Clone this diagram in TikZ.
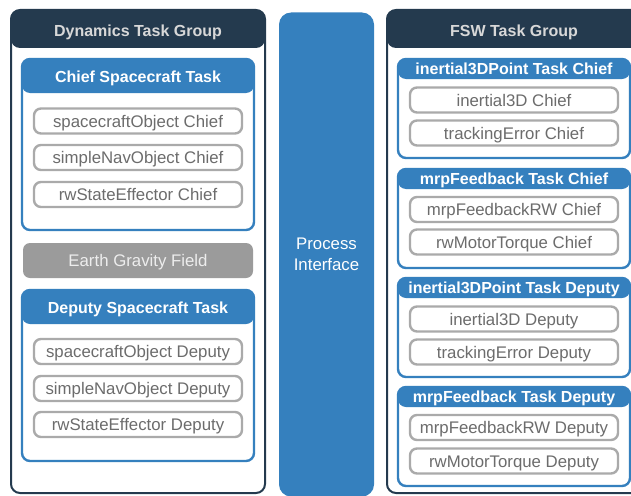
\documentclass[tikz,border=0pt]{standalone}
\usepackage{fontspec}
\setmainfont{Liberation Sans}
\definecolor{navy}{RGB}{36,58,78}
\definecolor{taskblue}{RGB}{53,128,190}
\definecolor{boxgray}{RGB}{170,170,170}
\definecolor{labelgray}{RGB}{108,108,108}
\definecolor{fieldgray}{RGB}{155,155,155}
\definecolor{headtext}{RGB}{216,216,216}

\tikzset{
  txt/.style={font=\fontsize{16.8}{19}\selectfont},
  btxt/.style={font=\fontsize{16}{19}\bfseries\selectfont},
  oneline/.style={text height=12pt, text depth=0pt},
  group/.style={draw=navy, line width=2pt, fill=white, rounded corners=9pt,
    minimum width=254pt, minimum height=483pt, inner sep=0pt,
    path picture={\fill[navy] (path picture bounding box.north west)
      rectangle ([yshift=-38pt]path picture bounding box.north east);}},
  grouptitle/.style={btxt, oneline, text=headtext, inner sep=0pt},
  dyntask/.style={draw=taskblue, line width=2.4pt, fill=white, rounded corners=8pt,
    minimum width=232pt, minimum height=171pt, inner sep=0pt,
    path picture={\fill[taskblue] (path picture bounding box.north west)
      rectangle ([yshift=-34pt]path picture bounding box.north east);}},
  fswtask/.style={draw=taskblue, line width=2.4pt, fill=white, rounded corners=8pt,
    minimum width=232pt, minimum height=99pt, inner sep=0pt,
    path picture={\fill[taskblue] (path picture bounding box.north west)
      rectangle ([yshift=-20pt]path picture bounding box.north east);}},
  tasktitle/.style={btxt, oneline, text=white, inner sep=0pt},
  item/.style={txt, oneline, draw=boxgray, line width=2.4pt, fill=white, rounded corners=7pt,
    text=labelgray, minimum width=208pt, minimum height=25pt, inner sep=0pt},
  field/.style={txt, oneline, fill=fieldgray, rounded corners=7pt, text=white!93!black,
    minimum width=230pt, minimum height=35pt, inner sep=0pt},
  interface/.style={txt, fill=taskblue, rounded corners=12pt, text=white,
    minimum width=95pt, minimum height=484pt, inner sep=0pt, align=center}
}

\begin{document}
\begin{tikzpicture}[x=1pt, y=-1pt]
\useasboundingbox (0,0) rectangle (631,495);

% ---------------- Dynamics task group ----------------
\node[group] (dyn) at (138,251.5) {};
\node[grouptitle] (dyntitle) at (138,30.5) {Dynamics Task Group};

\node[dyntask] (chief) at (138,144.5) {};
\node[tasktitle] (chieftitle) at (138,76.5) {Chief Spacecraft Task};
\node[item] (scC)  at (138,121) {spacecraftObject Chief};
\node[item] (navC) at (138,157.5) {simpleNavObject Chief};
\node[item] (rwC)  at (138,194.5) {rwStateEffector Chief};

\node[field] (grav) at (138,260.5) {Earth Gravity Field};

\node[dyntask] (deputy) at (138,375.5) {};
\node[tasktitle] (deputytitle) at (138,307.5) {Deputy Spacecraft Task};
\node[item] (scD)  at (138,351.5) {spacecraftObject Deputy};
\node[item] (navD) at (138,388.5) {simpleNavObject Deputy};
\node[item] (rwD)  at (138,424.5) {rwStateEffector Deputy};

% ---------------- Process interface ----------------
\node[interface] (pi) at (326.5,254.5) {Process\\[2pt]Interface};

% ---------------- FSW task group ----------------
\node[group] (fsw) at (514,251.5) {};
\node[grouptitle] (fswtitle) at (514,30.5) {FSW Task Group};

\node[fswtask] (t1) at (514,108.5) {};
\node[tasktitle] (t1title) at (514,68.5) {inertial3DPoint Task Chief};
\node[item] (t1a) at (514,100) {inertial3D Chief};
\node[item] (t1b) at (514,133) {trackingError Chief};

\node[fswtask] (t2) at (514,218.5) {};
\node[tasktitle] (t2title) at (514,178.5) {mrpFeedback Task Chief};
\node[item] (t2a) at (514,209.5) {mrpFeedbackRW Chief};
\node[item] (t2b) at (514,242) {rwMotorTorque Chief};

\node[fswtask] (t3) at (514,327.5) {};
\node[tasktitle] (t3title) at (514,287.5) {inertial3DPoint Task Deputy};
\node[item] (t3a) at (514,319) {inertial3D Deputy};
\node[item] (t3b) at (514,352) {trackingError Deputy};

\node[fswtask] (t4) at (514,436.5) {};
\node[tasktitle] (t4title) at (514,396.5) {mrpFeedback Task Deputy};
\node[item] (t4a) at (514,427.5) {mrpFeedbackRW Deputy};
\node[item] (t4b) at (514,461) {rwMotorTorque Deputy};
\end{tikzpicture}
\end{document}
